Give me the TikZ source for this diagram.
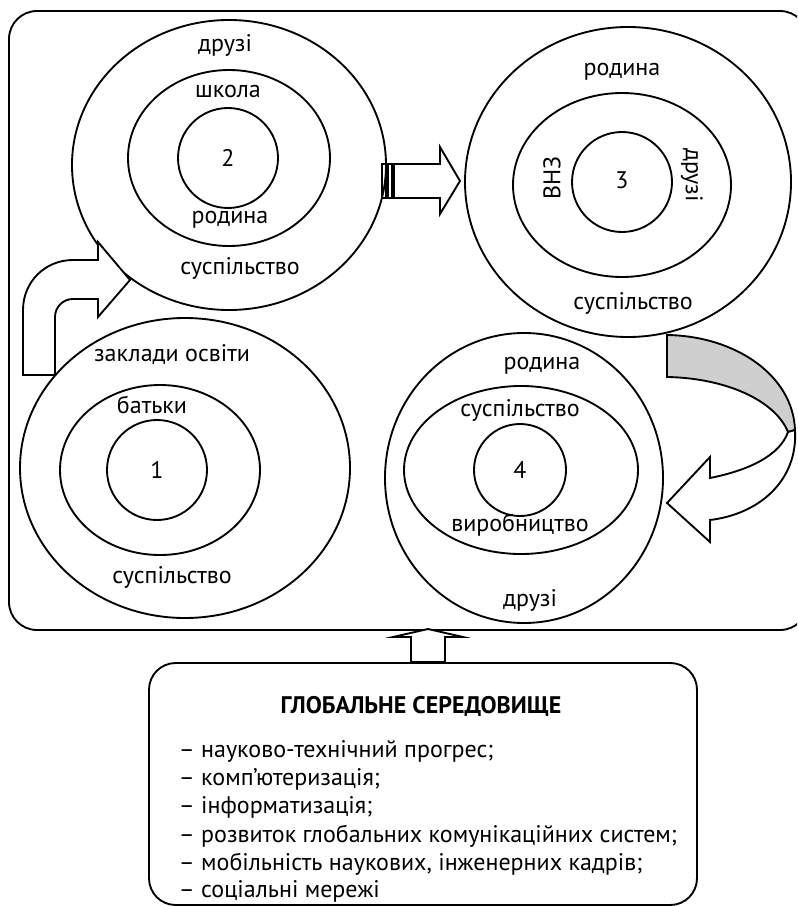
\documentclass[tikz,border=0pt]{standalone}
\usepackage{fontspec}
\setmainfont{PT Sans}
\begin{document}
\begin{tikzpicture}[x=0.75pt,y=-0.75pt,line width=1.4pt,line join=miter,
  lbl/.style={font=\fontsize{18}{21}\selectfont, inner sep=0pt},
  lst/.style={font=\fontsize{18}{21}\selectfont, inner sep=0pt, anchor=base west},
  blockarrow/.style={draw, fill=white, line width=1.4pt}]
\useasboundingbox (0,0) rectangle (797,906);
\begin{scope}
\clip (0,0) rectangle (797,906);
\draw[rounded corners=21pt] (9,11) rectangle (808,630);
\end{scope}

% circle 2 (top left)
\draw (229,165) ellipse [x radius=157, y radius=145];
\draw (229,158) ellipse [x radius=101, y radius=88];
\draw (228,158) circle [radius=50];
\node[lbl] (c2a) at (225,45) {друзі};
\node[lbl] (c2b) at (228,92) {школа};
\node[lbl] (c2n) at (228,158) {2};
\node[lbl] (c2c) at (230,220) {родина};
\node[lbl] (c2d) at (240,268) {суспільство};

% circle 3 (top right)
\draw (628,182) ellipse [x radius=163, y radius=155];
\draw (622,185) ellipse [x radius=109, y radius=92];
\draw (622,182) circle [radius=50];
\node[lbl] (c3a) at (622,72) {родина};
\node[lbl,rotate=90] (c3b) at (552,178) {ВНЗ};
\node[lbl] (c3n) at (622,180) {3};
\node[lbl,rotate=-90] (c3c) at (692,175) {друзі};
\node[lbl] (c3d) at (633,303) {суспільство};

% circle 1 (bottom left)
\draw (185,468) ellipse [x radius=165, y radius=150];
\draw (160,470) ellipse [x radius=100, y radius=85];
\draw (157,470) circle [radius=50];
\node[lbl] (c1a) at (172,355) {заклади освіти};
\node[lbl] (c1b) at (152,405) {батьки};
\node[lbl] (c1n) at (157,470) {1};
\node[lbl] (c1c) at (172,577) {суспільство};

% circle 4 (bottom right)
\draw (524,478) ellipse [x radius=139, y radius=145];
\draw (521,470) ellipse [x radius=117, y radius=84];
\draw (520,470) circle [radius=46];
\node[lbl] (c4a) at (542,366) {родина};
\node[lbl] (c4b) at (520,410) {суспільство};
\node[lbl] (c4n) at (520,470) {4};
\node[lbl] (c4c) at (520,525) {виробництво};
\node[lbl] (c4d) at (530,600) {друзі};

% left curved arrow (1 -> 2)
\draw[blockarrow] (23,375) -- (23,310) .. controls (23,282) and (45,260) .. (73,260)
  -- (98,260) -- (98,242) -- (130,280) -- (98,317) -- (98,299) -- (73,299)
  .. controls (63,299) and (55,307) .. (55,317) -- (55,375) -- cycle;

% striped arrow (2 -> 3)
\draw (382,164) rectangle (386,198);
\draw (388,164) rectangle (392,198);
\draw[blockarrow] (394,164) -- (440,164) -- (440,147) -- (460,181) -- (440,214)
  -- (440,198) -- (394,198) -- cycle;

% curved gray arrow (3 -> 4)
\draw[fill=black!19] (667,335) .. controls (735,336) and (793,375) .. (795,430)
  -- (788,432) .. controls (775,400) and (725,378) .. (667,377) -- cycle;
\draw[blockarrow] (795,430) .. controls (798,480) and (760,514) .. (710,520)
  -- (710,542) -- (667,503) -- (710,457) -- (710,478)
  .. controls (750,470) and (780,455) .. (788,432) -- cycle;

% up arrow (global -> frame)
\draw[blockarrow] (428,629) -- (463,637) -- (445,637) -- (445,662) -- (411,662)
  -- (411,637) -- (393,637) -- cycle;

% global environment box
\draw[rounded corners=20pt] (149,663) rectangle (697,905);
\node[lbl,font=\fontsize{18}{21}\selectfont\bfseries,anchor=base] (gt) at (421,713) {ГЛОБАЛЬНЕ СЕРЕДОВИЩЕ};
\node[lst] (g1) at (178,757) {– науково-технічний прогрес;};
\node[lst] (g2) at (178,785) {– комп’ютеризація;};
\node[lst] (g3) at (178,813) {– інформатизація;};
\node[lst] (g4) at (178,842) {– розвиток глобальних комунікаційних систем;};
\node[lst] (g5) at (178,870) {– мобільність наукових, інженерних кадрів;};
\node[lst] (g6) at (178,897) {– соціальні мережі};
\end{tikzpicture}
\end{document}
